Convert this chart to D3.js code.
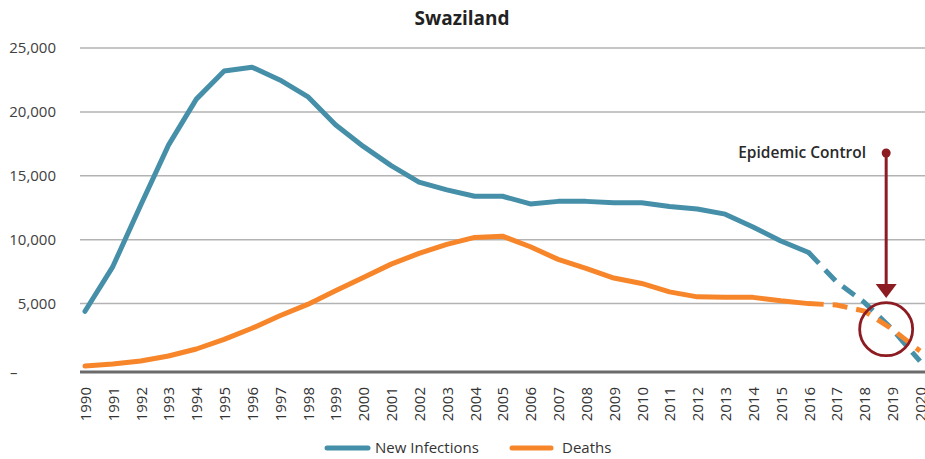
<!DOCTYPE html>
<html lang="en">

<head>
    <meta charset="utf-8" />
    <title>Swaziland - New Infections and Deaths</title>
    <script src="https://cdn.jsdelivr.net/npm/d3@7"></script>
    <style>
        body { margin: 0; background: #fff; }
        svg { font-family: 'Open Sans', sans-serif; }
    </style>
</head>

<body>
    <div id='chart'></div>
</body>
<script>

    let years = d3.range(1990, 2021)
    let infections = [4400, 7900, 12700, 17400, 21000, 23200, 23500, 22500, 21200, 19000,
        17300, 15800, 14500, 13900, 13400, 13400, 12800, 13000, 13000, 12900,
        12900, 12600, 12400, 12000, 11000, 9900, 9000, 6700, 5100, 3000, 500]
    let deaths = [120, 270, 510, 900, 1450, 2200, 3070, 4050, 4940, 6000,
        7050, 8090, 8930, 9630, 10180, 10280, 9450, 8460, 7760, 7000,
        6580, 5920, 5530, 5490, 5490, 5220, 5000, 4890, 4420, 3000, 1300]
    let yTicks = [0, 5000, 10000, 15000, 20000, 25000]
    let projFrom = 2016      // dashed from here on
    let controlYear = 2019
    let controlValue = 3000

    let width = 925, height = 459;
    let blue = '#468fa9', orange = '#f7852a', darkRed = '#8c1c22';

    let svg = d3.select('#chart')
        .append('svg')
        .attr('width', width)
        .attr('height', height);

    let x = d3.scalePoint()
        .domain(years)
        .range([85, 920]);

    let y = d3.scaleLinear()
        .domain([-350, 25000])
        .range([372, 48]);

    // gridlines
    svg.append('g')
        .selectAll('line')
        .data(yTicks.filter(d => d > 0))
        .enter().append('line')
        .attr('x1', 80)
        .attr('x2', width)
        .attr('y1', d => y(d))
        .attr('y2', d => y(d))
        .style('stroke', '#b3b3b3')
        .style('stroke-width', 1.5);

    // y axis labels
    let yAxis = d3.axisLeft(y)
        .tickValues(yTicks)
        .tickSize(0)
        .tickPadding(0)
        .tickFormat(d => d === 0 ? '–' : d3.format(',')(d));
    let gy = svg.append('g')
        .attr('transform', 'translate(56,0)')
        .call(yAxis);
    gy.select('.domain').remove();
    gy.selectAll('text')
        .style('font-size', '15px')
        .style('fill', '#404040')
        .style('font-family', "'Open Sans', sans-serif");
    gy.selectAll('.tick')
        .filter(d => d === 0)
        .select('text')
        .attr('text-anchor', 'start')
        .attr('x', -46)
        .attr('dy', '0.65em');

    // x axis
    let xAxis = d3.axisBottom(x)
        .tickSize(0)
        .tickPadding(0);
    let gx = svg.append('g')
        .attr('transform', 'translate(0,' + y(-350) + ')')
        .call(xAxis);
    gx.select('.domain').remove();
    gx.append('line')
        .attr('x1', 80)
        .attr('x2', width)
        .style('stroke', '#6b6b6b')
        .style('stroke-width', 3);
    gx.selectAll('text')
        .attr('transform', 'rotate(-90)')
        .attr('text-anchor', 'end')
        .attr('x', -15)
        .attr('y', 0)
        .attr('dy', '0.36em')
        .style('font-size', '15px')
        .style('fill', '#333')
        .style('font-family', "'Open Sans', sans-serif");

    // lines, solid up to projFrom then dashed
    let series = [
        { name: 'New Infections', values: infections, color: blue },
        { name: 'Deaths', values: deaths, color: orange }
    ];

    let line = d3.line()
        .x(d => x(d.year))
        .y(d => y(d.value));

    series.forEach(s => {
        let pts = years.map((yr, i) => ({ year: yr, value: s.values[i] }));
        svg.append('path')
            .datum(pts.filter(d => d.year >= projFrom))
            .attr('d', line)
            .style('fill', 'none')
            .style('stroke', s.color)
            .style('stroke-width', 5)
            .style('stroke-dasharray', '15,9');
        svg.append('path')
            .datum(pts.filter(d => d.year <= projFrom))
            .attr('d', line)
            .style('fill', 'none')
            .style('stroke', s.color)
            .style('stroke-width', 5)
            .style('stroke-linejoin', 'round')
            .style('stroke-linecap', 'round');
    });

    // title
    svg.append('text')
        .attr('x', 462)
        .attr('y', 25)
        .attr('text-anchor', 'middle')
        .style('font-size', '19px')
        .style('font-weight', 700)
        .style('fill', '#222')
        .text('Swaziland');

    // epidemic control annotation
    let cx = x(controlYear) - 6, cy = y(controlValue);
    let ann = svg.append('g');
    ann.append('circle')
        .attr('cx', cx)
        .attr('cy', cy)
        .attr('r', 26.5)
        .style('fill', 'none')
        .style('stroke', darkRed)
        .style('stroke-width', 2.8);
    ann.append('line')
        .attr('x1', cx)
        .attr('x2', cx)
        .attr('y1', 153)
        .attr('y2', 286)
        .style('stroke', darkRed)
        .style('stroke-width', 3);
    ann.append('circle')
        .attr('cx', cx)
        .attr('cy', 153)
        .attr('r', 4.5)
        .style('fill', darkRed);
    ann.append('path')
        .attr('d', 'M' + (cx - 10.5) + ',284 L' + (cx + 10.5) + ',284 L' + cx + ',298 Z')
        .style('fill', darkRed);
    ann.append('text')
        .attr('x', 866)
        .attr('y', 158)
        .attr('text-anchor', 'end')
        .style('font-size', '15.5px')
        .style('font-weight', 600)
        .style('fill', '#2a2a2a')
        .text('Epidemic Control');

    // legend
    let legend = svg.append('g')
        .selectAll('g')
        .data(series)
        .enter().append('g')
        .attr('transform', (d, i) => 'translate(' + [325, 510][i] + ',448)');
    legend.append('line')
        .attr('x1', 2)
        .attr('x2', (d, i) => [43, 41][i])
        .style('stroke', d => d.color)
        .style('stroke-width', 5)
        .style('stroke-linecap', 'round');
    legend.append('text')
        .attr('x', (d, i) => [50, 52][i])
        .attr('y', 5)
        .style('font-size', '15px')
        .style('fill', '#333')
        .text(d => d.name);

</script>

</html>
